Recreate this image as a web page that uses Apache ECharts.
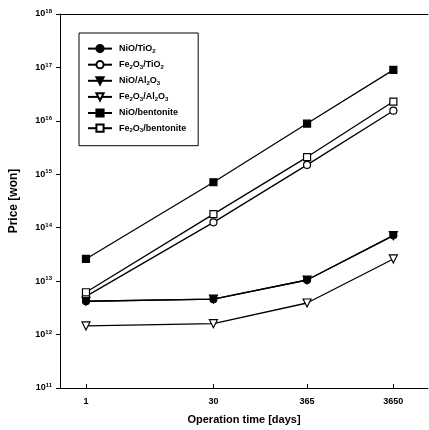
<!DOCTYPE html>
<html><head><meta charset="utf-8">
<script src="https://cdn.jsdelivr.net/npm/echarts@6/dist/echarts.min.js"></script>
<style>html,body{margin:0;padding:0;background:#fff}#c{width:429px;height:430px}</style>
</head><body><div id="c"></div>
<script>
const days = [1, 30, 365, 3650];
const xTicks = [1, 30, 365, 3650];
const yTickExps = [11, 12, 13, 14, 15, 16, 17, 18];
const seriesNames = ['NiO/TiO2', 'Fe2O3/TiO2', 'NiO/Al2O3', 'Fe2O3/Al2O3', 'NiO/bentonite', 'Fe2O3/bentonite'];
const legendRich = ['NiO/TiO{s|2}', 'Fe{s|2}O{s|3}/TiO{s|2}', 'NiO/Al{s|2}O{s|3}', 'Fe{s|2}O{s|3}/Al{s|2}O{s|3}', 'NiO/bentonite', 'Fe{s|2}O{s|3}/bentonite'];
const nioTio2 = [4.2e12, 4.6e12, 1.05e13, 7.2e13];
const fe2o3Tio2 = [5.2e12, 1.26e14, 1.5e15, 1.55e16];
const nioAl2o3 = [4.2e12, 4.6e12, 1.05e13, 7.1e13];
const fe2o3Al2o3 = [1.45e12, 1.6e12, 3.9e12, 2.6e13];
const niobent = [2.6e13, 7.1e14, 8.9e15, 9.0e16];
const fe2o3bent = [6.2e12, 1.8e14, 2.1e15, 2.3e16];

const values = [nioTio2, fe2o3Tio2, nioAl2o3, fe2o3Al2o3, niobent, fe2o3bent];
const symbols = ['circle', 'circle', 'triangle', 'triangle', 'rect', 'rect'];
const filled = [true, false, true, false, true, false];
const rotate = [0, 0, 180, 180, 0, 0];
const sizes = [7, 7, 8, 8, 7, 7];

const FONT = 'Liberation Sans';
const chart = echarts.init(document.getElementById('c'));
const series = seriesNames.map((n, i) => ({
  name: n, type: 'line',
  data: days.map((d, j) => [d, values[i][j]]),
  symbol: symbols[i], symbolSize: sizes[i], symbolRotate: rotate[i],
  showAllSymbol: true,
  lineStyle: { color: '#000', width: 1.3 },
  itemStyle: { color: filled[i] ? '#000' : '#fff', borderColor: '#000', borderWidth: 1.2 },
  z: 3 + i
}));

chart.setOption({
  animation: false,
  backgroundColor: '#fff',
  grid: { left: 59, right: 1, top: 14, bottom: 42 },
  legend: {
    orient: 'vertical', left: 79, top: 33,
    data: seriesNames,
    formatter: name => legendRich[seriesNames.indexOf(name)],
    borderColor: '#000', borderWidth: 1, padding: [11, 12, 12, 8],
    itemWidth: 24, itemHeight: 9, itemGap: 6,
    textStyle: { fontFamily: FONT, fontWeight: 'bold', fontSize: 9, color: '#000', padding: [0, 0, 0, 2],
      rich: { s: { fontSize: 6, fontFamily: FONT, fontWeight: 'bold', verticalAlign: 'bottom', padding: [5, 0, 0, 0] } } }
  },
  xAxis: [{
    type: 'log', min: 0.5, max: 9200, logBase: 10,
    name: 'Operation time [days]', nameLocation: 'middle', nameGap: 26,
    nameTextStyle: { fontFamily: FONT, fontWeight: 'bold', fontSize: 11, color: '#000' },
    axisLine: { lineStyle: { color: '#000', width: 1 } },
    axisTick: { inside: true, length: 4, customValues: xTicks, lineStyle: { color: '#000' } },
    axisLabel: { customValues: xTicks, formatter: v => String(Math.round(v)), fontFamily: FONT, fontWeight: 'bold', fontSize: 9, color: '#000', margin: 9 },
    splitLine: { show: false }, minorTick: { show: false }
  }, {
    type: 'log', min: 0.5, max: 9200, position: 'top',
    axisLine: { show: true, lineStyle: { color: '#000', width: 1 } },
    axisTick: { show: false }, axisLabel: { show: false }, splitLine: { show: false }
  }],
  yAxis: {
    type: 'log', min: 1e11, max: 1e18, logBase: 10,
    name: 'Price [won]', nameLocation: 'middle', nameGap: 40, nameRotate: 90,
    nameTextStyle: { fontFamily: FONT, fontWeight: 'bold', fontSize: 12, color: '#000' },
    axisLine: { show: true, lineStyle: { color: '#000', width: 1 } },
    axisTick: { show: true, length: 4, lineStyle: { color: '#000' } },
    axisLabel: {
      formatter: v => { const e = Math.round(Math.log10(v)); return yTickExps.includes(e) ? '10{p|' + e + '}' : ''; },
      fontFamily: FONT, fontWeight: 'bold', fontSize: 9, color: '#000', margin: 8,
      rich: { p: { fontSize: 6, fontFamily: FONT, fontWeight: 'bold', verticalAlign: 'top', padding: [0, 0, 5, 0] } }
    },
    splitLine: { show: false }
  },
  series: series
});
</script></body></html>
